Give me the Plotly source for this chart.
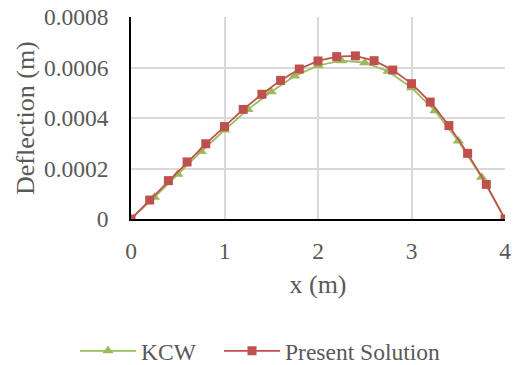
import plotly.graph_objects as go

# Beam deflection along the span
x_kcw = [0, 0.25, 0.5, 0.75, 1.0, 1.25, 1.5, 1.75, 2.0, 2.25, 2.5, 2.75, 3.0, 3.25, 3.5, 3.75, 4.0]
y_kcw = [0, 8.6e-5, 1.77e-4, 2.67e-4, 3.52e-4, 4.34e-4, 5.04e-4, 5.66e-4, 6.08e-4,
         6.27e-4, 6.19e-4, 5.85e-4, 5.20e-4, 4.29e-4, 3.09e-4, 1.65e-4, 0]

x_present = [0, 0.2, 0.4, 0.6, 0.8, 1.0, 1.2, 1.4, 1.6, 1.8, 2.0, 2.2, 2.4, 2.6, 2.8,
             3.0, 3.2, 3.4, 3.6, 3.8, 4.0]
y_present = [0, 7.5e-5, 1.52e-4, 2.26e-4, 2.98e-4, 3.66e-4, 4.34e-4, 4.94e-4, 5.49e-4,
             5.94e-4, 6.26e-4, 6.43e-4, 6.46e-4, 6.27e-4, 5.90e-4, 5.36e-4, 4.63e-4,
             3.70e-4, 2.60e-4, 1.37e-4, 0]

x_ticks = [0, 1, 2, 3, 4]
y_ticks = [0, 0.0002, 0.0004, 0.0006, 0.0008]
y_tick_labels = ["0", "0.0002", "0.0004", "0.0006", "0.0008"]

FONT = "Liberation Serif, Times New Roman, serif"
TEXT = "#595959"
TICK_SIZE = 23.5
TITLE_SIZE = 26
LEGEND_SIZE = 23.5
GREEN = "#9BBB59"
RED = "#C0504D"

fig = go.Figure()
fig.add_trace(go.Scatter(
    x=x_kcw, y=y_kcw, name="KCW", mode="lines+markers", legend="legend",
    line=dict(color=GREEN, width=1.75),
    marker=dict(symbol="triangle-up", size=10, color=GREEN),
))
fig.add_trace(go.Scatter(
    x=x_present, y=y_present, name="Present Solution", mode="lines+markers", legend="legend2",
    line=dict(color=RED, width=1.75),
    marker=dict(symbol="square", size=9, color=RED),
))

legend_common = dict(orientation="h", xref="container", yref="container",
                     xanchor="left", y=1 - 351 / 365, yanchor="middle",
                     font=dict(family=FONT, size=LEGEND_SIZE, color=TEXT),
                     itemwidth=56, bgcolor="rgba(0,0,0,0)")

fig.update_layout(
    template="none",
    width=513, height=365,
    margin=dict(l=131, r=8, t=17, b=146),
    paper_bgcolor="white", plot_bgcolor="white",
    font=dict(family=FONT, size=TICK_SIZE, color=TEXT),
    showlegend=True,
    legend=dict(x=75 / 513, **legend_common),
    legend2=dict(x=219 / 513, **legend_common),
    xaxis=dict(
        range=[0, 4], tickvals=x_ticks, ticktext=[str(v) for v in x_ticks],
        tickfont=dict(family=FONT, size=TICK_SIZE, color=TEXT),
        showgrid=True, gridcolor="#D9D9D9", gridwidth=1.5,
        showline=True, linecolor="black", linewidth=1.5,
        zeroline=False, ticks="", ticklabelstandoff=10, automargin=False,
        title=dict(text="x (m)", font=dict(family=FONT, size=TITLE_SIZE, color=TEXT), standoff=12),
    ),
    yaxis=dict(
        range=[0, 0.0008], tickvals=y_ticks, ticktext=y_tick_labels,
        tickfont=dict(family=FONT, size=TICK_SIZE, color=TEXT),
        showgrid=True, gridcolor="#D9D9D9", gridwidth=1.5,
        showline=True, linecolor="black", linewidth=1.5,
        zeroline=False, ticks="", ticklabelstandoff=16, automargin=False,
    ),
    annotations=[dict(
        text="Deflection (m)", textangle=-90, showarrow=False,
        xref="paper", yref="paper", x=0, y=0.5,
        xanchor="center", yanchor="middle", xshift=-106,
        font=dict(family=FONT, size=TITLE_SIZE, color=TEXT),
    )],
)

fig.write_html("out.html")
